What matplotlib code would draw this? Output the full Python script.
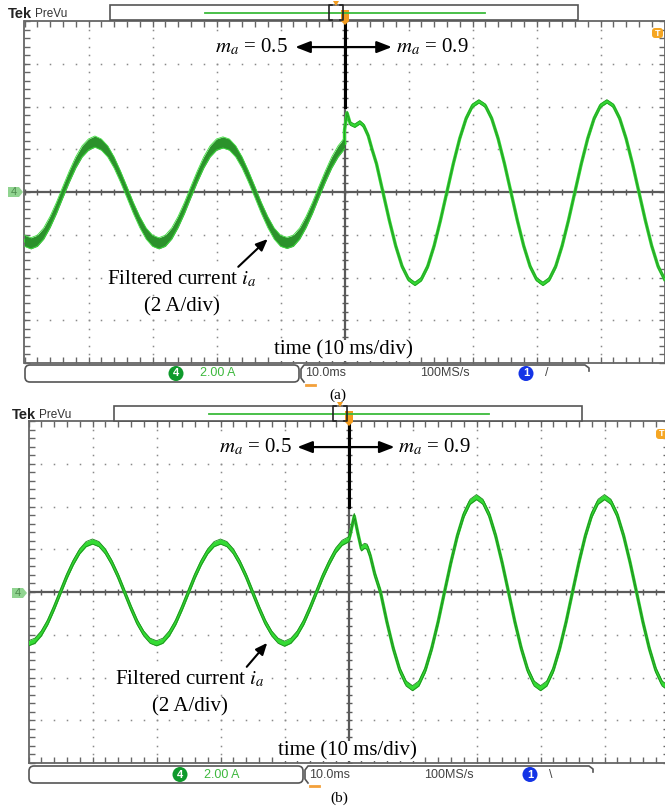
import numpy as np
import matplotlib.pyplot as plt
from matplotlib.patches import FancyBboxPatch, Polygon, Circle, Rectangle
from matplotlib.lines import Line2D
from matplotlib.transforms import Affine2D

plt.rcParams['mathtext.fontset'] = 'stix'

W, H = 665, 806

# time base in divisions (10 ms/div), 0 = instant where m_a is stepped
t_pre = np.round(np.arange(-5.0, 0.001, 0.1), 2)
t_post = np.round(np.arange(0.5, 5.001, 0.1), 2)

# filtered current i_a in divisions (2 A/div) -- scope (a)
i_pre_a = [-1.14, -1.20, -1.14, -0.97, -0.70, -0.37, 0.00, 0.36, 0.69, 0.95,
           1.11, 1.18, 1.11, 0.95, 0.69, 0.36, 0.00, -0.37, -0.70, -0.97,
           -1.14, -1.20, -1.14, -0.97, -0.70, -0.37, 0.00, 0.36, 0.69, 0.95,
           1.11, 1.16, 1.11, 0.95, 0.69, 0.36, 0.00, -0.37, -0.70, -0.97,
           -1.14, -1.19, -1.14, -0.97, -0.70, -0.37, 0.00, 0.36, 0.69, 0.95,
           1.14]
t_step_a = [0.00, 0.04, 0.09, 0.16, 0.24, 0.30, 0.37, 0.43]
i_step_a = [1.45, 1.85, 1.60, 1.55, 1.63, 1.55, 1.32, 1.00]
i_post_a = [0.66, 0.00, -0.66, -1.26, -1.74, -2.04, -2.15, -2.04, -1.74, -1.26,
            -0.66, 0.00, 0.66, 1.25, 1.72, 2.02, 2.12, 2.02, 1.72, 1.25,
            0.66, 0.00, -0.66, -1.26, -1.74, -2.04, -2.15, -2.04, -1.74, -1.26,
            -0.66, 0.00, 0.66, 1.25, 1.72, 2.02, 2.12, 2.02, 1.72, 1.25,
            0.66, 0.00, -0.66, -1.26, -1.74, -2.04]

# scope (b)
i_pre_b = [-1.20, -1.14, -0.97, -0.71, -0.37, 0.00, 0.37, 0.69, 0.95, 1.12,
           1.18, 1.12, 0.95, 0.69, 0.37, 0.00, -0.37, -0.71, -0.97, -1.14,
           -1.20, -1.14, -0.97, -0.71, -0.37, 0.00, 0.37, 0.69, 0.95, 1.12,
           1.18, 1.12, 0.95, 0.69, 0.37, 0.00, -0.37, -0.71, -0.97, -1.14,
           -1.21, -1.14, -0.97, -0.71, -0.37, 0.00, 0.37, 0.69, 0.97, 1.15,
           1.23]
t_step_b = [0.02, 0.09, 0.15, 0.20, 0.25, 0.29, 0.34, 0.41]
i_step_b = [1.30, 1.78, 1.35, 1.02, 1.08, 1.06, 0.85, 0.42]
i_post_b = [0.00, -0.70, -1.32, -1.82, -2.14, -2.25, -2.14, -1.82, -1.32, -0.70,
            0.00, 0.69, 1.31, 1.80, 2.11, 2.22, 2.11, 1.80, 1.31, 0.69,
            0.00, -0.70, -1.32, -1.82, -2.14, -2.25, -2.14, -1.82, -1.32, -0.70,
            0.00, 0.69, 1.31, 1.80, 2.11, 2.22, 2.11, 1.80, 1.31, 0.69,
            0.00, -0.70, -1.32, -1.82, -2.14, -2.25]

SERIF = 'Liberation Serif'
SANS = 'Liberation Sans'
WHITE_BOX = dict(fc='white', ec='none', pad=0.6)

fig = plt.figure(figsize=(W / 100, H / 100), dpi=100)
fig.patch.set_facecolor('white')
# pixel coordinates, y pointing down
px = Affine2D().scale(1.0 / W, -1.0 / H).translate(0, 1) + fig.transFigure


def graticule(ax):
    ax.set_xlim(-5, 5)
    ax.set_ylim(-4, 4)
    fx = np.round(np.arange(-5, 5.001, 0.2), 2)
    fy = np.round(np.arange(-4, 4.001, 0.2), 2)
    for gx in range(-4, 5):
        if gx != 0:
            ax.plot(np.full(fy.size, gx), fy, ls='none', marker='s', ms=1.1,
                    mew=0, color='#8a8a8a', zorder=1)
    for gy in range(-3, 4):
        if gy != 0:
            ax.plot(fx, np.full(fx.size, gy), ls='none', marker='s', ms=1.1,
                    mew=0, color='#8a8a8a', zorder=1)
    ax.axhline(0, color='#5a5a5a', lw=1.6, zorder=2)
    ax.axvline(0, color='#5a5a5a', lw=1.6, zorder=2)
    ax.plot(fx, np.zeros(fx.size), ls='none', marker='|', ms=5, mew=1,
            color='#5a5a5a', zorder=2)
    ax.plot(np.zeros(fy.size), fy, ls='none', marker='_', ms=5, mew=1,
            color='#5a5a5a', zorder=2)
    ax.set_xticks(np.arange(-5, 6))
    ax.set_xticks(fx, minor=True)
    ax.set_yticks(np.arange(-4, 5))
    ax.set_yticks(fy, minor=True)
    ax.tick_params(which='both', direction='in', length=4, width=1,
                   color='#666666', top=True, bottom=True, left=True,
                   right=True, labelbottom=False, labelleft=False)
    for s in ax.spines.values():
        s.set_color('#666666')
        s.set_linewidth(1.3)


def trace(ax, t, v, ripple, core, fill, edge):
    t = np.asarray(t, dtype=float)
    v = np.asarray(v, dtype=float)
    ax.plot(t, v, color=core, lw=2.4, solid_joinstyle='round', zorder=4)
    ax.fill_between(t, v - ripple, v + ripple, color=fill, lw=0, zorder=5)
    ax.plot(t, v + ripple, color=edge, lw=0.6, zorder=6)
    ax.plot(t, v - ripple, color=edge, lw=0.6, zorder=6)


def labels(ax, y_ma, x05, tip05, tip09, x09, xc, arrow_tail, arrow_head, y_time):
    ax.plot([0, 0], [2, 4], color='black', lw=2.2, zorder=7)
    for tip in (tip05, tip09):
        ax.annotate('', xy=(tip, y_ma), xytext=(0, y_ma), zorder=8,
                    arrowprops=dict(arrowstyle='-|>,head_length=0.9,head_width=0.35',
                                    color='black', lw=1.6, shrinkA=0, shrinkB=0))
    ax.text(x05, y_ma, r'$m_a$ = 0.5', ha='right', va='center',
            family=SERIF, fontsize=15, zorder=8, bbox=WHITE_BOX)
    ax.text(x09, y_ma, r'$m_a$ = 0.9', ha='left', va='center',
            family=SERIF, fontsize=15, zorder=8, bbox=WHITE_BOX)
    ax.text(xc, -2.04, r'Filtered current $i_a$', ha='center', va='center',
            family=SERIF, fontsize=15, zorder=8, bbox=WHITE_BOX)
    ax.text(xc, -2.69, '(2 A/div)', ha='center', va='center',
            family=SERIF, fontsize=15, zorder=8, bbox=WHITE_BOX)
    ax.annotate('', xy=arrow_head, xytext=arrow_tail, zorder=8,
                arrowprops=dict(arrowstyle='-|>,head_length=0.7,head_width=0.3',
                                color='black', lw=1.5, shrinkA=0, shrinkB=0))
    ax.text(-0.02, y_time, 'time (10 ms/div)', ha='center', va='center',
            family=SERIF, fontsize=15, zorder=8, bbox=WHITE_BOX)


def chrome(dx, dy, caption, cap_xy, slope):
    def add(a):
        a.set_transform(px)
        fig.add_artist(a)

    def txt(x, y, s, **kw):
        fig.text(x + dx, y + dy, s, transform=px, va='center', **kw)

    # header
    txt(8, 14, 'Tek', family=SANS, fontweight='bold', fontsize=10.5, color='#222222')
    txt(35, 14, 'PreVu', family=SANS, fontsize=8.5, color='#333333')
    add(Rectangle((110 + dx, 5 + dy), 468, 15, fc='white', ec='#555555', lw=1.2))
    add(Line2D([205 + dx, 485 + dx], [13 + dy, 13 + dy], color='#3cbb3c', lw=1.3))
    add(Line2D([332 + dx, 329 + dx, 329 + dx, 332 + dx],
               [5 + dy, 5 + dy, 20 + dy, 20 + dy], color='#222222', lw=1.2))
    add(Line2D([340 + dx, 343 + dx, 343 + dx, 340 + dx],
               [5 + dy, 5 + dy, 20 + dy, 20 + dy], color='#222222', lw=1.2))
    add(Polygon([(333 + dx, 1 + dy), (339 + dx, 1 + dy), (336 + dx, 6 + dy)],
                closed=True, fc='#f39c1f', ec='none'))
    add(Polygon([(341 + dx, 10 + dy), (349 + dx, 10 + dy), (349 + dx, 21 + dy),
                 (345 + dx, 25 + dy), (341 + dx, 21 + dy)],
                closed=True, fc='#f39c1f', ec='none'))
    add(FancyBboxPatch((652 + dx, 28 + dy), 11, 10,
                       boxstyle='round,pad=0,rounding_size=3',
                       fc='#f5a623', ec='none'))
    txt(657.5, 33, 'T', family=SANS, fontweight='bold', fontsize=6.5,
        color='white', ha='center')
    # channel 4 ground marker
    add(Polygon([(8 + dx, 187 + dy), (19 + dx, 187 + dy), (23 + dx, 192 + dy),
                 (19 + dx, 197 + dy), (8 + dx, 197 + dy)],
                closed=True, fc='#90d490', ec='none'))
    txt(14, 192, '4', family=SANS, fontsize=8, color='#4c8a4c', ha='center')
    # status line
    add(FancyBboxPatch((25 + dx, 365 + dy), 274, 17,
                       boxstyle='round,pad=0,rounding_size=5',
                       fc='white', ec='#555555', lw=1.2))
    add(Line2D([304 + dx, 301 + dx, 301 + dx, 304 + dx, 585 + dx, 589 + dx, 589 + dx],
               [382 + dy, 378 + dy, 369 + dy, 365 + dy, 365 + dy, 368 + dy, 371 + dy],
               color='#555555', lw=1.2))
    add(Circle((176 + dx, 373.5 + dy), 7.5, fc='#0f9a2c', ec='none'))
    txt(176, 373.5, '4', family=SANS, fontweight='bold', fontsize=8,
        color='white', ha='center')
    txt(200, 373.5, '2.00 A', family=SANS, fontsize=9, color='#3db83d')
    txt(305, 373.5, '10.0ms', family=SANS, fontsize=9, color='#444444')
    txt(420, 373.5, '100MS/s', family=SANS, fontsize=9, color='#444444')
    add(Circle((526 + dx, 373.5 + dy), 7.5, fc='#1434e6', ec='none'))
    txt(526, 373.5, '1', family=SANS, fontweight='bold', fontsize=8,
        color='white', ha='center')
    txt(545, 373.5, slope, family=SANS, fontsize=9, color='#444444')
    add(Line2D([306 + dx, 315 + dx], [385 + dy, 385 + dy], color='#f3a03a', lw=2))
    fig.text(cap_xy[0], cap_xy[1], caption, transform=px, ha='center',
             va='center', family=SERIF, fontsize=11)


# scope (a)
ax_a = fig.add_axes([24.5 / W, 1 - 363 / H, 640 / W, 342 / H])
graticule(ax_a)
trace(ax_a, t_pre, i_pre_a, 0.13, '#3ad83a', '#2b922b', '#3fe03f')
trace(ax_a, np.concatenate([[t_pre[-1]], t_step_a, t_post]),
      np.concatenate([[i_pre_a[-1]], i_step_a, i_post_a]),
      0.04, '#33d933', '#33d933', '#25a025')
labels(ax_a, 3.39, -0.88, -0.77, 0.74, 0.80, -2.54,
       (-1.66, -1.75), (-1.20, -1.10), -3.70)
chrome(0, 0, '(a)', (338, 395), '/')

# scope (b)
ax_b = fig.add_axes([28.5 / W, 1 - 763 / H, 640 / W, 342 / H])
graticule(ax_b)
trace(ax_b, t_pre, i_pre_b, 0.06, '#33db33', '#33db33', '#1f8a1f')
trace(ax_b, np.concatenate([[t_pre[-1]], t_step_b, t_post]),
      np.concatenate([[i_pre_b[-1]], i_step_b, i_post_b]),
      0.06, '#33db33', '#33db33', '#1f8a1f')
labels(ax_b, 3.39, -0.89, -0.80, 0.72, 0.78, -2.48,
       (-1.59, -1.75), (-1.27, -1.19), -3.72)
chrome(4, 401, '(b)', (339, 798), '\\')

fig.savefig('out.png', dpi=100, facecolor='white')
